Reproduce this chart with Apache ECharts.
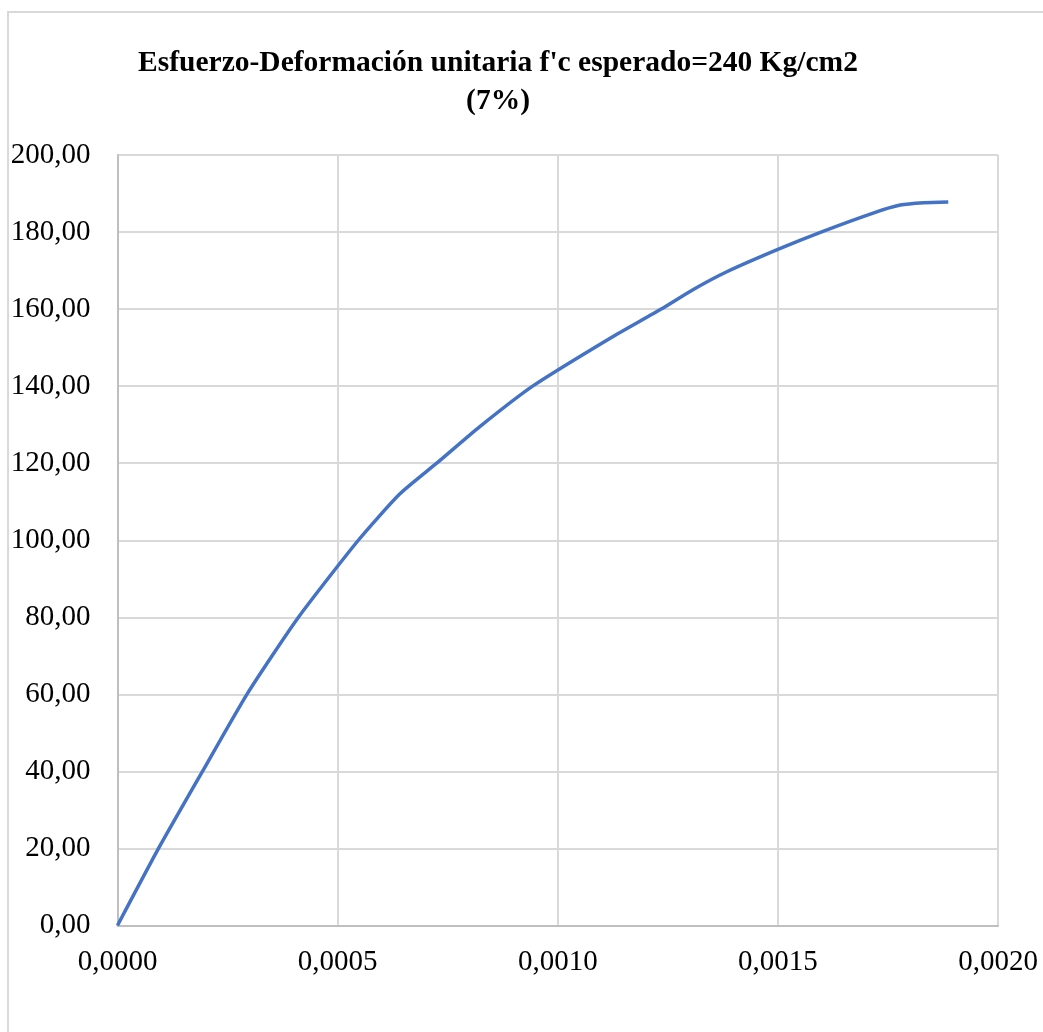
<!DOCTYPE html>
<html>
<head>
<meta charset="utf-8">
<script src="https://cdn.jsdelivr.net/npm/echarts@6/dist/echarts.min.js"></script>
<style>
html,body{margin:0;padding:0;background:#fff;}
#chart{width:1043px;height:1032px;}
</style>
</head>
<body>
<div id="chart"></div>
<script>
var titleText = "Esfuerzo-Deformación unitaria f'c esperado=240 Kg/cm2\n(7%)";
var strain = [0, 0.0000932, 0.000193, 0.000294, 0.000411, 0.000547, 0.000641, 0.000725, 0.000823, 0.000943, 0.001120, 0.001235, 0.001308, 0.001384, 0.0015, 0.001598, 0.001718, 0.001778, 0.001831, 0.001887];
var stress = [0, 20, 40, 60, 80, 100, 112, 120, 129.5, 140, 152.5, 160, 165.1, 169.7, 175.5, 180, 185, 187, 187.6, 187.8];
var xTicks = {min: 0, max: 0.002, interval: 0.0005};
var yTicks = {min: 0, max: 200, interval: 20};

var data = strain.map(function (s, i) { return [s, stress[i]]; });
var font = '"Liberation Serif", "Times New Roman", serif';
var chart = echarts.init(document.getElementById('chart'));
chart.setOption({
  animation: false,
  backgroundColor: '#fff',
  graphic: [{
    type: 'rect',
    shape: {x: 8, y: 12, width: 1200, height: 1200},
    style: {fill: 'none', stroke: '#d9d9d9', lineWidth: 2},
    silent: true, z: -1
  }],
  title: {
    text: titleText,
    left: 493, top: 39, textAlign: 'center',
    textStyle: {fontFamily: font, fontWeight: 'bold', fontSize: 29.5, lineHeight: 38, color: '#000'}
  },
  grid: {left: 117.5, right: 45, top: 155, bottom: 106.5, containLabel: false},
  xAxis: {
    type: 'value', min: xTicks.min, max: xTicks.max, interval: xTicks.interval,
    axisLine: {show: true, lineStyle: {color: '#bfbfbf', width: 2}},
    axisTick: {show: false},
    splitLine: {show: true, lineStyle: {color: '#d9d9d9', width: 2}},
    axisLabel: {
      margin: 22, color: '#000', fontFamily: font, fontSize: 29,
      formatter: function (v) { return v.toFixed(4).replace('.', ','); }
    }
  },
  yAxis: {
    type: 'value', min: yTicks.min, max: yTicks.max, interval: yTicks.interval,
    axisLine: {show: true, lineStyle: {color: '#bfbfbf', width: 2}},
    axisTick: {show: false},
    splitLine: {show: true, lineStyle: {color: '#d9d9d9', width: 2}},
    axisLabel: {
      margin: 27, color: '#000', fontFamily: font, fontSize: 29,
      formatter: function (v) { return v.toFixed(2).replace('.', ','); }
    }
  },
  series: [{
    type: 'line', data: data, smooth: 0.2, showSymbol: false,
    lineStyle: {color: '#4472C4', width: 3.5}
  }]
});
</script>
</body>
</html>
